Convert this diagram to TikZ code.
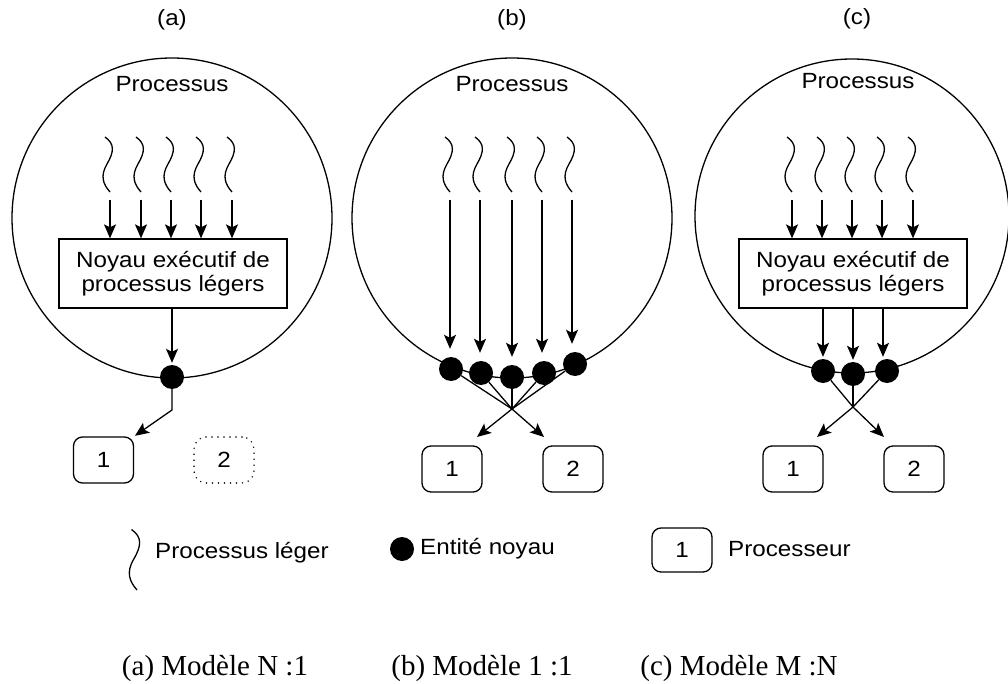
\documentclass[tikz,border=0pt]{standalone}
\usepackage{fontspec}
\setmainfont{Liberation Sans}
\newfontfamily\capfont{Liberation Serif}
\usetikzlibrary{arrows.meta}
\newcommand\Wd[1]{\scalebox{1.1}[1]{#1}}
\tikzset{
 lw/.style={line width=1.3pt},
 arr/.style={lw,-{Stealth[length=14pt,width=12pt,inset=3pt]}},
 dotn/.style={circle,fill=black,minimum size=24pt,inner sep=0},
 procbox/.style={draw,lw,rounded corners=9pt,minimum width=60pt,minimum height=46pt,inner sep=0,font=\fontsize{22}{25}\selectfont},
 sparsedots/.style={draw,line width=1.6pt,line cap=round,dash pattern=on 0pt off 6pt},
 kernel/.style={draw,lw,minimum width=228pt,minimum height=69pt,inner sep=0,align=center,font=\fontsize{22}{24}\selectfont},
 lbl/.style={font=\fontsize{22}{25}\selectfont,inner sep=0},
 captxt/.style={font=\capfont\fontsize{29}{34}\selectfont,inner sep=0},
 squig/.pic={\draw[lw] (-5,-55) .. controls (5,-48) and (4,-40) .. (-3,-28) .. controls (-10,-16) and (-7,-8) .. (0,0);}
}
\begin{document}
\begin{tikzpicture}[x=1pt,y=-1pt]
\path[use as bounding box] (0,0) rectangle (1008,684);
% ---------- panel (a)
\draw[lw] (172,218) circle (160);
\node[lbl] (la) at (172,20) {\Wd{(a)}};
\node[lbl] (pa) at (172,84) {\Wd{Processus}};
\node[kernel] (ka) at (173,273.5) {\Wd{Noyau exécutif de}\\\Wd{processus légers}};
\foreach \x in {110,141,171,201,232}{
  \pic at (\x,192) {squig};
  \coordinate (sa\x) at (\x,200);
  \draw[arr] (sa\x) -- (sa\x |- ka.north);
}
\node[dotn] (da) at (172,377) {};
\draw[arr,shorten >=2pt] (ka.south -| da) -- (da);
\coordinate (ba) at (172,410);
\node[procbox] (a1) at (103.5,460) {\Wd{1}};
\node[procbox,sparsedots,rounded corners=12pt] (a2) at (224,460) {\Wd{2}};
\draw[arr,shorten >=1pt] (da) -- (ba) -- (a1.north east);
% ---------- panel (b)
\draw[lw] (512,218) circle (160);
\node[lbl] (lb) at (512,20) {\Wd{(b)}};
\node[lbl] (pb) at (512,84) {\Wd{Processus}};
\node[dotn] (db1) at (451,369) {};
\node[dotn] (db2) at (481,373) {};
\node[dotn] (db3) at (512,377) {};
\node[dotn] (db4) at (544,373) {};
\node[dotn] (db5) at (575,364) {};
\foreach \x/\d in {450/db1,480/db2,512/db3,542/db4,572/db5}{
  \pic at (\x,192) {squig};
  \coordinate (sb\x) at (\x,200);
  \draw[arr,shorten >=8pt] (sb\x) -- (sb\x |- \d.north);
}
\coordinate (cb) at (512,409);
\foreach \d in {db1,db2,db3,db4,db5}{\draw[lw] (\d) -- (cb);}
\node[procbox] (b1) at (452,469) {\Wd{1}};
\node[procbox] (b2) at (573,469) {\Wd{2}};
\coordinate (tb1) at (477,437);
\coordinate (tb2) at (544,437);
\draw[arr] (cb) -- (tb1);
\draw[arr] (cb) -- (tb2);
% ---------- panel (c)
\draw[lw] (852,216) circle (157);
\node[lbl] (lc) at (857,19) {\Wd{(c)}};
\node[lbl] (pc) at (858,81) {\Wd{Processus}};
\node[kernel] (kc) at (853,273.5) {\Wd{Noyau exécutif de}\\\Wd{processus légers}};
\foreach \x in {792,822,852,882,913}{
  \pic at (\x,192) {squig};
  \coordinate (sc\x) at (\x,200);
  \draw[arr] (sc\x) -- (sc\x |- kc.north);
}
\node[dotn] (dc1) at (823,371) {};
\node[dotn] (dc2) at (853,374) {};
\node[dotn] (dc3) at (887,371) {};
\draw[arr,shorten >=2pt] ([xshift=-30pt]kc.south) -- ([xshift=-30pt]kc.south |- dc1.north);
\draw[arr,shorten >=2pt] (kc.south) -- (kc.south |- dc2.north);
\draw[arr,shorten >=2pt] ([xshift=30pt]kc.south) -- ([xshift=30pt]kc.south |- dc3.north);
\coordinate (cc) at (853,407);
\foreach \d in {dc1,dc2,dc3}{\draw[lw] (\d) -- (cc);}
\node[procbox] (c1) at (793,469) {\Wd{1}};
\node[procbox] (c2) at (914,469) {\Wd{2}};
\coordinate (tc1) at (817,437);
\coordinate (tc2) at (884,437);
\draw[arr] (cc) -- (tc1);
\draw[arr] (cc) -- (tc2);
% ---------- legend
\pic[scale=1.1] at (137,590) {squig};
\node[lbl,anchor=west] (tl) at (155,553) {\Wd{Processus léger}};
\node[dotn] (dl) at (402,549) {};
\node[lbl,anchor=west] (el) at (420,549) {\Wd{Entité noyau}};
\node[procbox,minimum height=44pt] (pl) at (682,550) {\Wd{1}};
\node[lbl,anchor=west] (prl) at (728,549) {\Wd{Processeur}};
% ---------- captions
\node[captxt] (ca) at (215,668) {(a) Modèle N :1};
\node[captxt] (cbcap) at (482,668) {(b) Modèle 1 :1};
\node[captxt] (cccap) at (739,668) {(c) Modèle M :N};
\end{tikzpicture}
\end{document}
